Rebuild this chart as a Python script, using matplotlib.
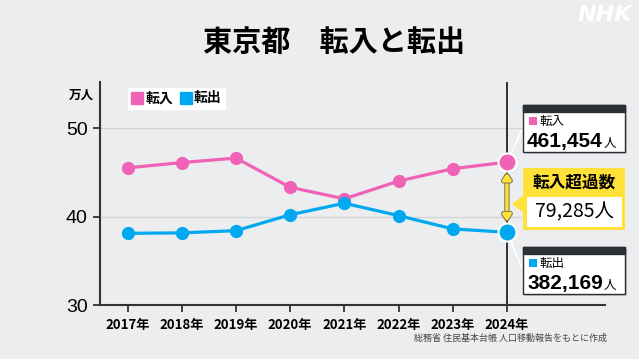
import matplotlib
matplotlib.use("Agg")
import matplotlib.pyplot as plt
from matplotlib.patches import Rectangle, Polygon, FancyArrowPatch
from matplotlib.lines import Line2D
import matplotlib.patheffects as pe

plt.rcParams['font.family'] = ['Noto Sans CJK JP', 'DejaVu Sans']

# data (万人)
years = ['2017年', '2018年', '2019年', '2020年', '2021年', '2022年', '2023年', '2024年']
tennyu = [45.5, 46.1, 46.6, 43.3, 42.0, 44.0, 45.4, 46.1454]
tenshutsu = [38.1, 38.15, 38.4, 40.2, 41.5, 40.1, 38.6, 38.2169]
tennyu_2024 = 461454
tenshutsu_2024 = 382169
yticks = [30, 40, 50]

PINK = '#ef62b6'
BLUE = '#00a9ef'
BG = '#ecedef'
DARK = '#2b3035'
YELLOW = '#ffe13a'

W, H = 639, 359
fig = plt.figure(figsize=(W / 100, H / 100), dpi=100, facecolor=BG)


def fx(px):
    return px / W


def fy(py):
    return 1 - py / H


ax = fig.add_axes([fx(100), fy(305), (605 - 100) / W, (305 - 82) / H])
ax.set_facecolor(BG)
x = list(range(len(years)))

for v in yticks[1:]:
    ax.axhline(v, color='#d3d4d6', lw=1, zorder=0)
ax.axvline(x[-1], color='#222222', lw=1.3, zorder=1)

ax.plot(x, tennyu, color=PINK, lw=2.3, marker='o', ms=8.5, zorder=3)
ax.plot(x, tenshutsu, color=BLUE, lw=2.3, marker='o', ms=8.5, zorder=3)
ax.plot(x[-1], tennyu[-1], 'o', color=PINK, ms=13, mec='white', mew=1.5, zorder=5)
ax.plot(x[-1], tenshutsu[-1], 'o', color=BLUE, ms=13, mec='white', mew=1.5, zorder=5)

ax.set_xlim(-0.51, 8.81)
ax.set_ylim(30, 55.2)
ax.set_xticks(x)
ax.set_xticklabels(years, fontsize=9.5, fontweight='bold')
ax.set_yticks(yticks)
ax.set_yticklabels([str(v) for v in yticks], fontsize=14, family=['Liberation Sans'])
ax.tick_params(axis='both', length=5, width=1.3, color='#333333', pad=4)
for s in ['top', 'right']:
    ax.spines[s].set_visible(False)
for s in ['left', 'bottom']:
    ax.spines[s].set_color('#333333')
    ax.spines[s].set_linewidth(1.5)

# legend
handles = [Line2D([], [], ls='', marker='s', ms=9, color=PINK),
           Line2D([], [], ls='', marker='s', ms=9, color=BLUE)]
leg = ax.legend(handles, ['転入', '転出'], ncol=2, loc='upper left',
                bbox_to_anchor=(fx(128), fy(88)), bbox_transform=fig.transFigure,
                prop={'size': 10, 'weight': 'bold'}, frameon=True, fancybox=False,
                edgecolor='white', facecolor='white', framealpha=1,
                handlelength=0.8, handletextpad=0.2, columnspacing=0.5,
                borderpad=0.25, borderaxespad=0)

# double arrow between last points
arr = FancyArrowPatch((x[-1], tennyu[-1] - 0.9), (x[-1], tenshutsu[-1] + 0.9),
                      arrowstyle='<|-|>,head_length=0.45,head_width=0.3',
                      mutation_scale=8, facecolor=YELLOW, edgecolor=YELLOW, lw=2.4, zorder=4,
                      path_effects=[pe.withStroke(linewidth=3.8, foreground='#7a7650')])
ax.add_patch(arr)

# connector lines to boxes
ax.annotate('', xy=(x[-1], tennyu[-1]), xytext=(fx(523), fy(128)),
            textcoords='figure fraction', arrowprops=dict(arrowstyle='-', color='white', lw=1.2),
            zorder=2)
ax.annotate('', xy=(x[-1], tenshutsu[-1]), xytext=(fx(523), fy(270)),
            textcoords='figure fraction', arrowprops=dict(arrowstyle='-', color='white', lw=1.2),
            zorder=2)


def rect(x0, y0, x1, y1, **kw):
    r = Rectangle((fx(x0), fy(y1)), (x1 - x0) / W, (y1 - y0) / H,
                  transform=fig.transFigure, **kw)
    fig.add_artist(r)
    return r


def value_box(y0, label, color, value):
    rect(525, y0 + 2, 627, y0 + 49, facecolor='#c8c9cc', edgecolor='none', zorder=5)
    rect(523, y0, 625, y0 + 47, facecolor='white', edgecolor=DARK, lw=1, zorder=6)
    rect(523, y0, 625, y0 + 7, facecolor=DARK, edgecolor=DARK, lw=1, zorder=7)
    rect(529, y0 + 12, 537, y0 + 20, facecolor=color, edgecolor='none', zorder=7)
    fig.text(fx(539), fy(y0 + 16), label, fontsize=9, va='center', ha='left', zorder=8)
    t = fig.text(fx(527), fy(y0 + 42), f'{value:,}', fontsize=15, fontweight='bold',
                 va='baseline', ha='left', zorder=8, family=['Liberation Sans'])
    return t


t1 = value_box(105, '転入', PINK, tennyu_2024)
t2 = value_box(247, '転出', BLUE, tenshutsu_2024)

# yellow box
rect(523, 168, 625, 230, facecolor=YELLOW, edgecolor='none', zorder=6)
fig.add_artist(Polygon([(fx(524), fy(195)), (fx(512), fy(204)), (fx(524), fy(213))],
                       closed=True, transform=fig.transFigure, facecolor=YELLOW,
                       edgecolor='none', zorder=6))
rect(527, 197, 622, 227, facecolor='white', edgecolor='none', zorder=7)
fig.text(fx(574), fy(183), '転入超過数', fontsize=12, fontweight='bold',
         ha='center', va='center', zorder=8)
fig.text(fx(574), fy(212), f'{tennyu_2024 - tenshutsu_2024:,}人', fontsize=14,
         ha='center', va='center', zorder=8)

# small 人 after the values
fig.canvas.draw()
inv = fig.transFigure.inverted()
for t in (t1, t2):
    bb = t.get_window_extent()
    px0, py0 = inv.transform((bb.x1 + 1, 0))
    fig.text(px0, t.get_position()[1], '人', fontsize=9, va='baseline', ha='left', zorder=8)

# titles and notes
fig.text(fx(334), fy(42), '東京都　転入と転出', fontsize=21, fontweight='bold',
         ha='center', va='center')
fig.text(fx(81), fy(95), '万人', fontsize=9, fontweight='bold', ha='center', va='center')
fig.text(fx(607), fy(338), '総務省 住民基本台帳 人口移動報告をもとに作成', fontsize=6.5,
         color='#444444', ha='right', va='center')
fig.text(fx(632), fy(15), 'NHK', fontsize=16, fontweight='bold', style='italic',
         color='white', ha='right', va='center', family=['DejaVu Sans'])

fig.savefig('out.png', dpi=100, facecolor=BG)
